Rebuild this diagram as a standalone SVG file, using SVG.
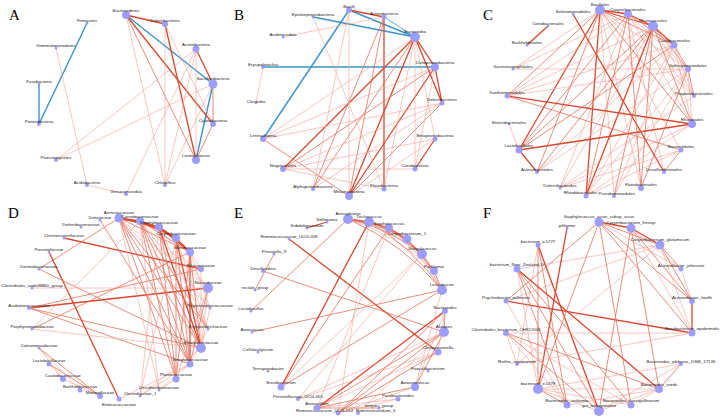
<svg xmlns="http://www.w3.org/2000/svg" width="722" height="418" viewBox="0 0 722 418">
<style>
.t{stroke:#f2a193;stroke-width:0.6;fill:none}
.m{stroke:#e6705b;stroke-width:0.8;fill:none}
.k{stroke:#d8472e;stroke-width:1.3;fill:none}
.b{stroke:#3a94ca;stroke-width:1.4;fill:none}
.bt{stroke:#3a94ca;stroke-width:0.8;fill:none}
circle{fill:#9d9dff}
text{font-family:"Liberation Sans",Arial,sans-serif;font-size:4.4px;fill:#222;text-anchor:middle}
text.p{font-family:"Liberation Serif","Times New Roman",serif;font-size:15px;fill:#000;text-anchor:start}
</style>
<rect width="722" height="418" fill="#fff"/>
<g id="connectors">
<g id="edges-A">
<line class="b" x1="87" y1="23" x2="39" y2="124"/>
<line class="b" x1="39" y1="84" x2="39" y2="124"/>
<line class="b" x1="126" y1="15" x2="213" y2="84"/>
<line class="b" x1="213" y1="84" x2="196" y2="160"/>
<line class="k" x1="126" y1="15" x2="165" y2="24"/>
<line class="k" x1="165" y1="24" x2="196" y2="160"/>
<line class="k" x1="196" y1="49" x2="213" y2="84"/>
<line class="k" x1="126" y1="15" x2="213" y2="124"/>
<line class="m" x1="126" y1="15" x2="196" y2="160"/>
<line class="m" x1="213" y1="124" x2="196" y2="160"/>
<line class="m" x1="213" y1="84" x2="213" y2="124"/>
<line class="t" x1="126" y1="15" x2="165" y2="185"/>
<line class="t" x1="165" y1="24" x2="165" y2="185"/>
<line class="t" x1="196" y1="49" x2="56" y2="160"/>
<line class="t" x1="213" y1="84" x2="56" y2="160"/>
<line class="t" x1="196" y1="49" x2="126" y2="194"/>
<line class="t" x1="196" y1="49" x2="165" y2="185"/>
<line class="t" x1="213" y1="84" x2="165" y2="185"/>
<line class="t" x1="56" y1="48" x2="87" y2="185"/>
<line class="t" x1="87" y1="185" x2="126" y2="194"/>
<line class="t" x1="165" y1="24" x2="213" y2="124"/>
<line class="t" x1="196" y1="49" x2="196" y2="160"/>
</g>
<g id="edges-B">
<line class="b" x1="349" y1="10" x2="415" y2="37"/>
<line class="b" x1="313" y1="17" x2="415" y2="37"/>
<line class="b" x1="349" y1="10" x2="263" y2="139"/>
<line class="b" x1="263" y1="67" x2="435" y2="67"/>
<line class="bt" x1="384" y1="17" x2="415" y2="37"/>
<line class="k" x1="349" y1="10" x2="384" y2="17"/>
<line class="k" x1="384" y1="17" x2="384" y2="189"/>
<line class="k" x1="415" y1="37" x2="435" y2="67"/>
<line class="k" x1="415" y1="37" x2="442" y2="103"/>
<line class="k" x1="435" y1="67" x2="442" y2="103"/>
<line class="k" x1="415" y1="37" x2="349" y2="196"/>
<line class="k" x1="435" y1="139" x2="415" y2="169"/>
<line class="k" x1="415" y1="37" x2="283" y2="169"/>
<line class="m" x1="415" y1="37" x2="313" y2="189"/>
<line class="k" x1="435" y1="67" x2="349" y2="196"/>
<line class="m" x1="442" y1="103" x2="349" y2="196"/>
<line class="m" x1="263" y1="139" x2="349" y2="196"/>
<line class="m" x1="313" y1="189" x2="384" y2="17"/>
<line class="m" x1="349" y1="196" x2="384" y2="17"/>
<line class="m" x1="283" y1="169" x2="435" y2="67"/>
<line class="t" x1="415" y1="37" x2="415" y2="169"/>
<line class="t" x1="415" y1="37" x2="263" y2="139"/>
<line class="t" x1="415" y1="37" x2="384" y2="189"/>
<line class="t" x1="435" y1="67" x2="263" y2="139"/>
<line class="t" x1="442" y1="103" x2="283" y2="169"/>
<line class="t" x1="435" y1="139" x2="283" y2="169"/>
<line class="t" x1="435" y1="139" x2="349" y2="196"/>
<line class="t" x1="415" y1="169" x2="283" y2="169"/>
<line class="t" x1="263" y1="139" x2="442" y2="103"/>
<line class="t" x1="283" y1="37" x2="384" y2="17"/>
<line class="t" x1="263" y1="67" x2="256" y2="103"/>
<line class="t" x1="313" y1="17" x2="384" y2="189"/>
<line class="t" x1="349" y1="10" x2="313" y2="189"/>
<line class="t" x1="349" y1="10" x2="349" y2="196"/>
<line class="t" x1="283" y1="169" x2="384" y2="189"/>
<line class="t" x1="415" y1="37" x2="435" y2="139"/>
<line class="t" x1="435" y1="67" x2="415" y2="169"/>
<line class="t" x1="442" y1="103" x2="313" y2="189"/>
</g>
<g id="edges-C">
<line class="k" x1="600" y1="10" x2="628" y2="14"/>
<line class="k" x1="600" y1="10" x2="653" y2="26"/>
<line class="k" x1="628" y1="14" x2="653" y2="26"/>
<line class="k" x1="653" y1="26" x2="674" y2="45"/>
<line class="m" x1="674" y1="45" x2="688" y2="69"/>
<line class="m" x1="688" y1="69" x2="694" y2="96"/>
<line class="m" x1="600" y1="10" x2="674" y2="45"/>
<line class="m" x1="628" y1="14" x2="674" y2="45"/>
<line class="t" x1="600" y1="10" x2="688" y2="69"/>
<line class="t" x1="600" y1="10" x2="694" y2="96"/>
<line class="m" x1="600" y1="10" x2="692" y2="124"/>
<line class="t" x1="628" y1="14" x2="688" y2="69"/>
<line class="t" x1="628" y1="14" x2="694" y2="96"/>
<line class="t" x1="628" y1="14" x2="692" y2="124"/>
<line class="m" x1="653" y1="26" x2="688" y2="69"/>
<line class="t" x1="653" y1="26" x2="694" y2="96"/>
<line class="m" x1="653" y1="26" x2="692" y2="124"/>
<line class="t" x1="674" y1="45" x2="694" y2="96"/>
<line class="t" x1="674" y1="45" x2="692" y2="124"/>
<line class="t" x1="688" y1="69" x2="692" y2="124"/>
<line class="m" x1="600" y1="10" x2="507" y2="96"/>
<line class="k" x1="600" y1="10" x2="519" y2="150"/>
<line class="m" x1="600" y1="10" x2="537" y2="172"/>
<line class="k" x1="600" y1="10" x2="586" y2="196"/>
<line class="t" x1="600" y1="10" x2="614" y2="196"/>
<line class="t" x1="600" y1="10" x2="641" y2="188"/>
<line class="t" x1="600" y1="10" x2="513" y2="69"/>
<line class="t" x1="600" y1="10" x2="681" y2="150"/>
<line class="m" x1="628" y1="14" x2="519" y2="150"/>
<line class="t" x1="628" y1="14" x2="513" y2="69"/>
<line class="m" x1="628" y1="14" x2="586" y2="196"/>
<line class="t" x1="628" y1="14" x2="664" y2="172"/>
<line class="t" x1="628" y1="14" x2="560" y2="188"/>
<line class="t" x1="628" y1="14" x2="507" y2="96"/>
<line class="m" x1="653" y1="26" x2="519" y2="150"/>
<line class="m" x1="653" y1="26" x2="537" y2="172"/>
<line class="k" x1="653" y1="26" x2="586" y2="196"/>
<line class="t" x1="653" y1="26" x2="560" y2="188"/>
<line class="m" x1="653" y1="26" x2="641" y2="188"/>
<line class="t" x1="653" y1="26" x2="507" y2="96"/>
<line class="m" x1="653" y1="26" x2="614" y2="196"/>
<line class="t" x1="674" y1="45" x2="507" y2="96"/>
<line class="m" x1="674" y1="45" x2="519" y2="150"/>
<line class="t" x1="674" y1="45" x2="586" y2="196"/>
<line class="t" x1="674" y1="45" x2="614" y2="196"/>
<line class="t" x1="674" y1="45" x2="537" y2="172"/>
<line class="t" x1="688" y1="69" x2="507" y2="96"/>
<line class="t" x1="688" y1="69" x2="513" y2="69"/>
<line class="m" x1="688" y1="69" x2="641" y2="188"/>
<line class="t" x1="688" y1="69" x2="537" y2="172"/>
<line class="t" x1="688" y1="69" x2="614" y2="196"/>
<line class="t" x1="688" y1="69" x2="586" y2="196"/>
<line class="k" x1="548" y1="26" x2="527" y2="45"/>
<line class="k" x1="573" y1="14" x2="664" y2="172"/>
<line class="k" x1="507" y1="96" x2="692" y2="124"/>
<line class="k" x1="519" y1="150" x2="692" y2="124"/>
<line class="k" x1="519" y1="150" x2="537" y2="172"/>
<line class="t" x1="509" y1="124" x2="519" y2="150"/>
<line class="m" x1="507" y1="96" x2="681" y2="150"/>
<line class="t" x1="681" y1="150" x2="586" y2="196"/>
<line class="t" x1="681" y1="150" x2="560" y2="188"/>
<line class="t" x1="694" y1="96" x2="560" y2="188"/>
<line class="t" x1="692" y1="124" x2="586" y2="196"/>
<line class="t" x1="692" y1="124" x2="560" y2="188"/>
<line class="m" x1="641" y1="188" x2="628" y2="14"/>
<line class="m" x1="664" y1="172" x2="681" y2="150"/>
</g>
<g id="edges-D">
<line class="k" x1="119" y1="218" x2="140" y2="221"/>
<line class="k" x1="140" y1="221" x2="159" y2="227"/>
<line class="k" x1="159" y1="227" x2="176" y2="238"/>
<line class="k" x1="176" y1="238" x2="190" y2="252"/>
<line class="k" x1="119" y1="218" x2="159" y2="227"/>
<line class="k" x1="140" y1="221" x2="176" y2="238"/>
<line class="k" x1="159" y1="227" x2="190" y2="252"/>
<path class="k" d="M119,218 Q152,224 176,238"/>
<line class="k" x1="64" y1="238" x2="201" y2="269"/>
<line class="m" x1="119" y1="218" x2="39" y2="269"/>
<line class="k" x1="29" y1="308" x2="208" y2="288"/>
<line class="k" x1="49" y1="252" x2="119" y2="399"/>
<line class="k" x1="159" y1="227" x2="201" y2="348"/>
<line class="k" x1="176" y1="238" x2="201" y2="348"/>
<line class="m" x1="140" y1="221" x2="176" y2="379"/>
<line class="k" x1="190" y1="252" x2="190" y2="364"/>
<line class="m" x1="208" y1="288" x2="190" y2="364"/>
<line class="m" x1="119" y1="218" x2="176" y2="379"/>
<line class="m" x1="119" y1="218" x2="190" y2="252"/>
<line class="m" x1="140" y1="221" x2="190" y2="252"/>
<line class="m" x1="119" y1="218" x2="201" y2="348"/>
<line class="m" x1="140" y1="221" x2="201" y2="348"/>
<line class="m" x1="140" y1="221" x2="190" y2="364"/>
<line class="m" x1="159" y1="227" x2="190" y2="364"/>
<line class="m" x1="159" y1="227" x2="176" y2="379"/>
<line class="m" x1="176" y1="238" x2="176" y2="379"/>
<line class="m" x1="176" y1="238" x2="190" y2="364"/>
<line class="m" x1="190" y1="252" x2="201" y2="348"/>
<line class="m" x1="190" y1="252" x2="176" y2="379"/>
<line class="m" x1="119" y1="218" x2="190" y2="364"/>
<line class="m" x1="100" y1="220" x2="190" y2="364"/>
<line class="m" x1="39" y1="269" x2="201" y2="348"/>
<line class="m" x1="29" y1="308" x2="201" y2="348"/>
<line class="m" x1="29" y1="308" x2="190" y2="364"/>
<line class="m" x1="32" y1="329" x2="190" y2="252"/>
<line class="m" x1="39" y1="348" x2="100" y2="396"/>
<line class="m" x1="49" y1="364" x2="100" y2="396"/>
<line class="t" x1="63" y1="379" x2="100" y2="396"/>
<line class="t" x1="32" y1="288" x2="208" y2="288"/>
<line class="m" x1="29" y1="308" x2="201" y2="269"/>
<line class="m" x1="119" y1="218" x2="208" y2="329"/>
<line class="m" x1="140" y1="221" x2="208" y2="329"/>
<line class="t" x1="201" y1="269" x2="201" y2="348"/>
<line class="t" x1="210" y1="308" x2="201" y2="348"/>
<line class="t" x1="208" y1="329" x2="190" y2="364"/>
<line class="t" x1="119" y1="218" x2="208" y2="288"/>
<line class="t" x1="140" y1="221" x2="208" y2="288"/>
<line class="t" x1="159" y1="227" x2="208" y2="288"/>
<line class="t" x1="159" y1="227" x2="208" y2="329"/>
<line class="t" x1="176" y1="238" x2="208" y2="329"/>
<line class="t" x1="119" y1="218" x2="210" y2="308"/>
<line class="t" x1="140" y1="221" x2="210" y2="308"/>
<line class="t" x1="190" y1="252" x2="210" y2="308"/>
<line class="t" x1="119" y1="218" x2="159" y2="390"/>
<line class="t" x1="140" y1="221" x2="159" y2="390"/>
<line class="t" x1="159" y1="227" x2="140" y2="396"/>
<line class="t" x1="176" y1="238" x2="140" y2="396"/>
<line class="t" x1="201" y1="348" x2="140" y2="396"/>
<line class="t" x1="190" y1="364" x2="140" y2="396"/>
<line class="t" x1="208" y1="288" x2="176" y2="379"/>
<line class="t" x1="190" y1="252" x2="201" y2="269"/>
<line class="t" x1="208" y1="288" x2="201" y2="348"/>
<line class="t" x1="32" y1="329" x2="201" y2="348"/>
<line class="t" x1="39" y1="348" x2="80" y2="390"/>
<line class="t" x1="49" y1="364" x2="63" y2="379"/>
<line class="t" x1="39" y1="348" x2="63" y2="379"/>
<line class="t" x1="159" y1="390" x2="190" y2="364"/>
<line class="t" x1="159" y1="390" x2="176" y2="379"/>
<line class="t" x1="119" y1="399" x2="190" y2="364"/>
<line class="t" x1="140" y1="221" x2="32" y2="329"/>
</g>
<g id="edges-E">
<line class="k" x1="348" y1="219" x2="369" y2="222"/>
<line class="k" x1="369" y1="222" x2="389" y2="228"/>
<line class="k" x1="389" y1="228" x2="407" y2="239"/>
<line class="m" x1="348" y1="219" x2="389" y2="228"/>
<line class="m" x1="369" y1="222" x2="407" y2="239"/>
<line class="m" x1="407" y1="239" x2="422" y2="254"/>
<line class="m" x1="422" y1="254" x2="434" y2="271"/>
<line class="m" x1="434" y1="271" x2="442" y2="290"/>
<line class="m" x1="389" y1="228" x2="422" y2="254"/>
<line class="m" x1="407" y1="239" x2="434" y2="271"/>
<line class="t" x1="422" y1="254" x2="442" y2="290"/>
<path class="m" d="M348,219 Q404,244 442,290"/>
<path class="t" d="M348,219 Q397,235 434,271"/>
<path class="m" d="M348,219 Q389,228 422,254"/>
<path class="m" d="M348,219 Q380,222 407,239"/>
<path class="m" d="M369,222 Q414,248 442,290"/>
<path class="t" d="M369,222 Q408,239 434,271"/>
<path class="m" d="M369,222 Q400,231 422,254"/>
<path class="t" d="M389,228 Q423,253 442,290"/>
<path class="m" d="M389,228 Q417,244 434,271"/>
<path class="t" d="M407,239 Q431,260 442,290"/>
<line class="k" x1="327" y1="222" x2="307" y2="228"/>
<line class="k" x1="289" y1="239" x2="438" y2="352"/>
<line class="m" x1="274" y1="254" x2="255" y2="290"/>
<line class="m" x1="263" y1="271" x2="444" y2="332"/>
<line class="m" x1="251" y1="311" x2="348" y2="219"/>
<line class="m" x1="252" y1="332" x2="442" y2="290"/>
<line class="k" x1="281" y1="387" x2="369" y2="222"/>
<line class="m" x1="281" y1="387" x2="389" y2="228"/>
<line class="t" x1="281" y1="387" x2="422" y2="254"/>
<line class="m" x1="281" y1="387" x2="442" y2="290"/>
<line class="t" x1="369" y1="222" x2="338" y2="413"/>
<line class="t" x1="389" y1="228" x2="317" y2="408"/>
<line class="k" x1="445" y1="311" x2="317" y2="408"/>
<line class="m" x1="445" y1="311" x2="338" y2="413"/>
<line class="m" x1="444" y1="332" x2="317" y2="408"/>
<line class="m" x1="444" y1="332" x2="338" y2="413"/>
<line class="t" x1="444" y1="332" x2="358" y2="413"/>
<line class="t" x1="444" y1="332" x2="298" y2="399"/>
<line class="t" x1="438" y1="352" x2="298" y2="399"/>
<line class="t" x1="438" y1="352" x2="317" y2="408"/>
<line class="m" x1="438" y1="352" x2="338" y2="413"/>
<line class="m" x1="415" y1="387" x2="317" y2="408"/>
<line class="t" x1="415" y1="387" x2="338" y2="413"/>
<line class="m" x1="415" y1="387" x2="444" y2="332"/>
<line class="t" x1="415" y1="387" x2="445" y2="311"/>
<line class="t" x1="398" y1="399" x2="317" y2="408"/>
<line class="t" x1="398" y1="399" x2="338" y2="413"/>
<line class="m" x1="379" y1="408" x2="317" y2="408"/>
<line class="m" x1="445" y1="311" x2="444" y2="332"/>
<line class="t" x1="422" y1="254" x2="298" y2="399"/>
<line class="t" x1="442" y1="290" x2="415" y2="387"/>
<line class="t" x1="438" y1="352" x2="445" y2="311"/>
</g>
<g id="edges-F">
<line class="k" x1="599" y1="222" x2="631" y2="228"/>
<line class="k" x1="631" y1="228" x2="660" y2="245"/>
<line class="k" x1="692" y1="301" x2="692" y2="333"/>
<line class="k" x1="506" y1="301" x2="692" y2="333"/>
<line class="m" x1="599" y1="222" x2="660" y2="245"/>
<line class="t" x1="599" y1="222" x2="681" y2="269"/>
<line class="m" x1="599" y1="222" x2="692" y2="301"/>
<line class="m" x1="599" y1="222" x2="692" y2="333"/>
<line class="t" x1="631" y1="228" x2="681" y2="269"/>
<line class="m" x1="631" y1="228" x2="692" y2="301"/>
<line class="t" x1="631" y1="228" x2="692" y2="333"/>
<line class="m" x1="660" y1="245" x2="681" y2="269"/>
<line class="m" x1="660" y1="245" x2="692" y2="301"/>
<line class="t" x1="660" y1="245" x2="692" y2="333"/>
<line class="t" x1="681" y1="269" x2="692" y2="301"/>
<line class="m" x1="599" y1="222" x2="506" y2="301"/>
<line class="t" x1="660" y1="245" x2="506" y2="301"/>
<line class="t" x1="660" y1="245" x2="517" y2="269"/>
<line class="k" x1="567" y1="228" x2="538" y2="389"/>
<line class="m" x1="538" y1="245" x2="538" y2="389"/>
<line class="m" x1="538" y1="245" x2="567" y2="405"/>
<line class="k" x1="538" y1="245" x2="599" y2="411"/>
<line class="t" x1="538" y1="245" x2="517" y2="364"/>
<line class="m" x1="517" y1="269" x2="599" y2="411"/>
<line class="m" x1="517" y1="269" x2="567" y2="405"/>
<line class="m" x1="517" y1="269" x2="631" y2="405"/>
<line class="k" x1="517" y1="269" x2="659" y2="389"/>
<line class="t" x1="517" y1="269" x2="538" y2="389"/>
<line class="t" x1="506" y1="333" x2="692" y2="333"/>
<line class="m" x1="506" y1="333" x2="659" y2="389"/>
<line class="m" x1="506" y1="333" x2="599" y2="411"/>
<line class="t" x1="506" y1="333" x2="567" y2="405"/>
<line class="t" x1="506" y1="333" x2="631" y2="405"/>
<line class="t" x1="506" y1="333" x2="517" y2="364"/>
<line class="t" x1="538" y1="389" x2="659" y2="389"/>
<line class="m" x1="538" y1="389" x2="567" y2="405"/>
<line class="t" x1="538" y1="389" x2="599" y2="411"/>
<line class="t" x1="538" y1="389" x2="631" y2="405"/>
<line class="t" x1="538" y1="389" x2="681" y2="364"/>
<line class="t" x1="567" y1="405" x2="659" y2="389"/>
<line class="t" x1="599" y1="411" x2="659" y2="389"/>
<line class="t" x1="631" y1="405" x2="659" y2="389"/>
<line class="m" x1="681" y1="364" x2="659" y2="389"/>
<line class="t" x1="681" y1="364" x2="599" y2="411"/>
<line class="m" x1="631" y1="228" x2="659" y2="389"/>
<line class="m" x1="599" y1="222" x2="631" y2="405"/>
<line class="t" x1="660" y1="245" x2="517" y2="364"/>
<line class="m" x1="599" y1="222" x2="538" y2="389"/>
<line class="m" x1="631" y1="228" x2="599" y2="411"/>
<line class="t" x1="517" y1="364" x2="692" y2="333"/>
<line class="t" x1="506" y1="301" x2="567" y2="405"/>
</g>
</g>
<g id="panel-labels">
<text class="p" x="9" y="20">A</text>
<text class="p" x="234" y="20">B</text>
<text class="p" x="483" y="20">C</text>
<text class="p" x="8" y="218">D</text>
<text class="p" x="234" y="218">E</text>
<text class="p" x="483" y="218">F</text>
</g>
<g id="nodes-A">
<g id="A-Bacteroidetes"><circle cx="126" cy="15" r="4"/><text x="126" y="11.8">Bacteroidetes</text></g>
<g id="A-Deferribacteres"><circle cx="165" cy="24" r="3"/><text x="165" y="21.8">Deferribacteres</text></g>
<g id="A-Firmicutes"><circle cx="87" cy="23" r="1.5"/><text x="87" y="22.3">Firmicutes</text></g>
<g id="A-Gemmatimonadetes"><circle cx="56" cy="48" r="1.5"/><text x="56" y="47.3">Gemmatimonadetes</text></g>
<g id="A-Actinobacteria"><circle cx="196" cy="49" r="3.5"/><text x="196" y="46.3">Actinobacteria</text></g>
<g id="A-Saccharibacteria"><circle cx="213" cy="84" r="4.5"/><text x="213" y="80.3">Saccharibacteria</text></g>
<g id="A-Fusobacteria"><circle cx="39" cy="84" r="1.5"/><text x="39" y="83.3">Fusobacteria</text></g>
<g id="A-Proteobacteria"><circle cx="39" cy="124" r="2"/><text x="39" y="122.8">Proteobacteria</text></g>
<g id="A-Cyanobacteria"><circle cx="213" cy="124" r="3"/><text x="213" y="121.8">Cyanobacteria</text></g>
<g id="A-Planctomycetes"><circle cx="56" cy="160" r="2"/><text x="56" y="158.8">Planctomycetes</text></g>
<g id="A-Lentisphaerae"><circle cx="196" cy="160" r="4"/><text x="196" y="156.8">Lentisphaerae</text></g>
<g id="A-Acidobacteria"><circle cx="87" cy="185" r="2"/><text x="87" y="183.8">Acidobacteria</text></g>
<g id="A-Chloroflexi"><circle cx="165" cy="185" r="2"/><text x="165" y="183.8">Chloroflexi</text></g>
<g id="A-Verrucomicrobia"><circle cx="126" cy="194" r="2"/><text x="126" y="192.8">Verrucomicrobia</text></g>
</g>
<g id="nodes-B">
<g id="B-Bacilli"><circle cx="349" cy="10" r="3"/><text x="349" y="7.8">Bacilli</text></g>
<g id="B-Actinobacteria"><circle cx="384" cy="17" r="2.5"/><text x="384" y="15.3">Actinobacteria</text></g>
<g id="B-Epsilonproteobacteria"><circle cx="313" cy="17" r="1.5"/><text x="313" y="16.3">Epsilonproteobacteria</text></g>
<g id="B-Acidimicrobiia"><circle cx="283" cy="37" r="1.5"/><text x="283" y="36.3">Acidimicrobiia</text></g>
<g id="B-Bacteroidia"><circle cx="415" cy="37" r="5"/><text x="415" y="32.8">Bacteroidia</text></g>
<g id="B-Erysipelotrichia"><circle cx="263" cy="67" r="2"/><text x="263" y="65.8">Erysipelotrichia</text></g>
<g id="B-Deltaproteobacteria"><circle cx="435" cy="67" r="4"/><text x="435" y="63.8">Deltaproteobacteria</text></g>
<g id="B-Clostridia"><circle cx="256" cy="103" r="1.2"/><text x="256" y="102.6">Clostridia</text></g>
<g id="B-Deferribacteres"><circle cx="442" cy="103" r="2.5"/><text x="442" y="101.3">Deferribacteres</text></g>
<g id="B-Lentisphaeria"><circle cx="263" cy="139" r="3"/><text x="263" y="136.8">Lentisphaeria</text></g>
<g id="B-Betaproteobacteria"><circle cx="435" cy="139" r="2.5"/><text x="435" y="137.3">Betaproteobacteria</text></g>
<g id="B-Negativicutes"><circle cx="283" cy="169" r="3"/><text x="283" y="166.8">Negativicutes</text></g>
<g id="B-Coriobacteriia"><circle cx="415" cy="169" r="2.5"/><text x="415" y="167.3">Coriobacteriia</text></g>
<g id="B-Alphaproteobacteria"><circle cx="313" cy="189" r="2"/><text x="313" y="187.8">Alphaproteobacteria</text></g>
<g id="B-Flavobacteriia"><circle cx="384" cy="189" r="2.5"/><text x="384" y="187.3">Flavobacteriia</text></g>
<g id="B-Melainabacteria"><circle cx="349" cy="196" r="4"/><text x="349" y="192.8">Melainabacteria</text></g>
</g>
<g id="nodes-C">
<g id="C-Bacillales"><circle cx="600" cy="10" r="5"/><text x="600" y="5.8">Bacillales</text></g>
<g id="C-Selenomonadales"><circle cx="573" cy="14" r="1.5"/><text x="573" y="13.3">Selenomonadales</text></g>
<g id="C-Corynebacteriales"><circle cx="628" cy="14" r="4"/><text x="628" y="10.8">Corynebacteriales</text></g>
<g id="C-Coriobacteriales"><circle cx="548" cy="26" r="1.5"/><text x="548" y="25.3">Coriobacteriales</text></g>
<g id="C-Micrococcales"><circle cx="653" cy="26" r="5"/><text x="653" y="21.8">Micrococcales</text></g>
<g id="C-Burkholderiales"><circle cx="527" cy="45" r="1.5"/><text x="527" y="44.3">Burkholderiales</text></g>
<g id="C-Caulobacterales"><circle cx="674" cy="45" r="3.5"/><text x="674" y="42.3">Caulobacterales</text></g>
<g id="C-Gastranaerophilales"><circle cx="513" cy="69" r="1.5"/><text x="513" y="68.3">Gastranaerophilales</text></g>
<g id="C-Sphingomonadales"><circle cx="688" cy="69" r="3"/><text x="688" y="66.8">Sphingomonadales</text></g>
<g id="C-Xanthomonadales"><circle cx="507" cy="96" r="2.5"/><text x="507" y="94.3">Xanthomonadales</text></g>
<g id="C-Propionibacteriales"><circle cx="694" cy="96" r="2"/><text x="694" y="94.8">Propionibacteriales</text></g>
<g id="C-Rhizobiales"><circle cx="692" cy="124" r="4"/><text x="692" y="120.8">Rhizobiales</text></g>
<g id="C-Enterobacteriales"><circle cx="509" cy="124" r="1.2"/><text x="509" y="123.6">Enterobacteriales</text></g>
<g id="C-Lactobacillales"><circle cx="519" cy="150" r="3.5"/><text x="519" y="147.3">Lactobacillales</text></g>
<g id="C-Bacteroidales"><circle cx="681" cy="150" r="2.5"/><text x="681" y="148.3">Bacteroidales</text></g>
<g id="C-Actinomycetales"><circle cx="537" cy="172" r="2"/><text x="537" y="170.8">Actinomycetales</text></g>
<g id="C-Desulfovibrionales"><circle cx="664" cy="172" r="2"/><text x="664" y="170.8">Desulfovibrionales</text></g>
<g id="C-Deferribacterales"><circle cx="560" cy="188" r="1.5"/><text x="560" y="187.3">Deferribacterales</text></g>
<g id="C-Flavobacteriales"><circle cx="641" cy="188" r="3"/><text x="641" y="185.8">Flavobacteriales</text></g>
<g id="C-Rhodobacterales"><circle cx="586" cy="196" r="2.5"/><text x="597.3" y="194.3" style="text-anchor:end">Rhodobacterales</text></g>
<g id="C-Pseudomonadales"><circle cx="614" cy="196" r="2"/><text x="598.6" y="194.8" style="text-anchor:start">Pseudomonadales</text></g>
</g>
<g id="nodes-D">
<g id="D-Aerococcaceae"><circle cx="119" cy="218" r="4.5"/><text x="119" y="214.3">Aerococcaceae</text></g>
<g id="D-Dietziaceae"><circle cx="100" cy="220" r="1.5"/><text x="100" y="219.3">Dietziaceae</text></g>
<g id="D-Carnobacteriaceae"><circle cx="140" cy="221" r="4"/><text x="140" y="217.8">Carnobacteriaceae</text></g>
<g id="D-Staphylococcaceae"><circle cx="159" cy="227" r="4"/><text x="159" y="223.8">Staphylococcaceae</text></g>
<g id="D-Deferribacteraceae"><circle cx="81" cy="227" r="1.5"/><text x="81" y="226.3">Deferribacteraceae</text></g>
<g id="D-Corynebacteriaceae"><circle cx="176" cy="238" r="4"/><text x="176" y="234.8">Corynebacteriaceae</text></g>
<g id="D-Christensenellaceae"><circle cx="64" cy="238" r="1.5"/><text x="64" y="237.3">Christensenellaceae</text></g>
<g id="D-Micrococcaceae"><circle cx="190" cy="252" r="4"/><text x="190" y="248.8">Micrococcaceae</text></g>
<g id="D-Prevotellaceae"><circle cx="49" cy="252" r="1.5"/><text x="49" y="251.3">Prevotellaceae</text></g>
<g id="D-Neisseriaceae"><circle cx="201" cy="269" r="3"/><text x="201" y="266.8">Neisseriaceae</text></g>
<g id="D-Dermabacteraceae"><circle cx="39" cy="269" r="1.5"/><text x="39" y="268.3">Dermabacteraceae</text></g>
<g id="D-Nocardiaceae"><circle cx="208" cy="288" r="5"/><text x="208" y="283.8">Nocardiaceae</text></g>
<g id="D-Clostridiales_vadinBB60_group"><circle cx="32" cy="288" r="1.5"/><text x="32" y="287.3">Clostridiales_vadinBB60_group</text></g>
<g id="D-Peptostreptococcaceae"><circle cx="210" cy="308" r="1.5"/><text x="210" y="307.3">Peptostreptococcaceae</text></g>
<g id="D-Acidaminococcaceae"><circle cx="29" cy="308" r="2"/><text x="29" y="306.8">Acidaminococcaceae</text></g>
<g id="D-Erysipelotrichaceae"><circle cx="208" cy="329" r="1.5"/><text x="208" y="328.3">Erysipelotrichaceae</text></g>
<g id="D-Porphyromonadaceae"><circle cx="32" cy="329" r="1.5"/><text x="32" y="328.3">Porphyromonadaceae</text></g>
<g id="D-Brevibacteriaceae"><circle cx="201" cy="348" r="5"/><text x="201" y="343.8">Brevibacteriaceae</text></g>
<g id="D-Comamonadaceae"><circle cx="39" cy="348" r="1.5"/><text x="39" y="347.3">Comamonadaceae</text></g>
<g id="D-Streptococcaceae"><circle cx="190" cy="364" r="3.5"/><text x="190" y="361.3">Streptococcaceae</text></g>
<g id="D-Lactobacillaceae"><circle cx="49" cy="364" r="2.5"/><text x="49" y="362.3">Lactobacillaceae</text></g>
<g id="D-Planococcaceae"><circle cx="176" cy="379" r="3.5"/><text x="176" y="376.3">Planococcaceae</text></g>
<g id="D-Caulobacteraceae"><circle cx="63" cy="379" r="3"/><text x="63" y="376.8">Caulobacteraceae</text></g>
<g id="D-Desulfovibrionaceae"><circle cx="159" cy="390" r="1.5"/><text x="159" y="389.3">Desulfovibrionaceae</text></g>
<g id="D-Burkholderiaceae"><circle cx="80" cy="390" r="2.5"/><text x="80" y="388.3">Burkholderiaceae</text></g>
<g id="D-Moraxellaceae"><circle cx="100" cy="396" r="3"/><text x="100" y="393.8">Moraxellaceae</text></g>
<g id="D-Enterococcaceae"><circle cx="119" cy="399" r="2.5"/><text x="119" y="405.5">Enterococcaceae</text></g>
<g id="D-Clostridiaceae_1"><circle cx="140" cy="396" r="1.5"/><text x="140" y="395.3">Clostridiaceae_1</text></g>
</g>
<g id="nodes-E">
<g id="E-Aerosphaera"><circle cx="348" cy="219" r="5"/><text x="348" y="214.8">Aerosphaera</text></g>
<g id="E-Trichococcus"><circle cx="369" cy="222" r="5"/><text x="369" y="217.8">Trichococcus</text></g>
<g id="E-Staphylococcus"><circle cx="389" cy="228" r="4"/><text x="389" y="224.8">Staphylococcus</text></g>
<g id="E-Corynebacterium_1"><circle cx="407" cy="239" r="4.5"/><text x="407" y="235.3">Corynebacterium_1</text></g>
<g id="E-Jeotgalicoccus"><circle cx="422" cy="254" r="5"/><text x="422" y="249.8">Jeotgalicoccus</text></g>
<g id="E-Facklamia"><circle cx="434" cy="271" r="4"/><text x="434" y="267.8">Facklamia</text></g>
<g id="E-Leucobacter"><circle cx="442" cy="290" r="5"/><text x="442" y="285.8">Leucobacter</text></g>
<g id="E-Bacteroides"><circle cx="445" cy="311" r="3"/><text x="445" y="308.8">Bacteroides</text></g>
<g id="E-Alistipes"><circle cx="444" cy="332" r="5"/><text x="444" y="327.8">Alistipes</text></g>
<g id="E-Christensenella"><circle cx="438" cy="352" r="3.5"/><text x="438" y="349.3">Christensenella</text></g>
<g id="E-Faecalibacterium"><circle cx="428" cy="371" r="1.5"/><text x="428" y="370.3">Faecalibacterium</text></g>
<g id="E-Anaerotruncus"><circle cx="415" cy="387" r="4"/><text x="415" y="383.8">Anaerotruncus</text></g>
<g id="E-Parabacteroides"><circle cx="398" cy="399" r="2.5"/><text x="398" y="397.3">Parabacteroides</text></g>
<g id="E-torques_group"><circle cx="379" cy="408" r="1.5"/><text x="379" y="406.8">torques_group</text></g>
<g id="E-Ruminiclostridium_5"><circle cx="358" cy="413" r="2"/><text x="356" y="412" style="text-anchor:start">Ruminiclostridium_5</text></g>
<g id="E-Ruminococcaceae_UCG-014"><circle cx="338" cy="413" r="2.5"/><text x="353" y="411.8" style="text-anchor:end">Ruminococcaceae_UCG-014</text></g>
<g id="E-Anaerofilum"><circle cx="317" cy="408" r="3.5"/><text x="317" y="404.8">Anaerofilum</text></g>
<g id="E-Prevotellaceae_UCG-001"><circle cx="298" cy="399" r="2"/><text x="298" y="397.8">Prevotellaceae_UCG-001</text></g>
<g id="E-Brevibacterium"><circle cx="281" cy="387" r="3.5"/><text x="281" y="384.3">Brevibacterium</text></g>
<g id="E-Terrisporobacter"><circle cx="268" cy="371" r="1.5"/><text x="268" y="370.3">Terrisporobacter</text></g>
<g id="E-Cellulosilyticum"><circle cx="258" cy="352" r="1.5"/><text x="258" y="351.3">Cellulosilyticum</text></g>
<g id="E-Aerococcus"><circle cx="252" cy="332" r="1.5"/><text x="252" y="331.3">Aerococcus</text></g>
<g id="E-Lactobacillus"><circle cx="251" cy="311" r="1.5"/><text x="251" y="310.3">Lactobacillus</text></g>
<g id="E-rectale_group"><circle cx="255" cy="290" r="1.5"/><text x="255" y="289.3">rectale_group</text></g>
<g id="E-Desulfovibrio"><circle cx="263" cy="271" r="2"/><text x="263" y="269.8">Desulfovibrio</text></g>
<g id="E-Prevotella_9"><circle cx="274" cy="254" r="1.5"/><text x="274" y="253.3">Prevotella_9</text></g>
<g id="E-Ruminococcaceae_UCG-009"><circle cx="289" cy="239" r="1.5"/><text x="289" y="238.3">Ruminococcaceae_UCG-009</text></g>
<g id="E-Subdoligranulum"><circle cx="307" cy="228" r="1.5"/><text x="307" y="227.3">Subdoligranulum</text></g>
<g id="E-Sellimonas"><circle cx="327" cy="222" r="1.5"/><text x="327" y="221.3">Sellimonas</text></g>
</g>
<g id="nodes-F">
<g id="F-Staphylococcus_sciuri_subsp_sciuri"><circle cx="599" cy="222" r="4.5"/><text x="599" y="218.3">Staphylococcus_sciuri_subsp_sciuri</text></g>
<g id="F-Corynebacterium_freneyi"><circle cx="631" cy="228" r="4.5"/><text x="631" y="224.3">Corynebacterium_freneyi</text></g>
<g id="F-Corynebacterium_glutamicum"><circle cx="660" cy="245" r="4.5"/><text x="660" y="241.3">Corynebacterium_glutamicum</text></g>
<g id="F-piliforme"><circle cx="567" cy="228" r="1.5"/><text x="567" y="227.3">piliforme</text></g>
<g id="F-bacterium_ic1277"><circle cx="538" cy="245" r="2.5"/><text x="538" y="243.3">bacterium_ic1277</text></g>
<g id="F-bacterium_New_Zealand_D"><circle cx="517" cy="269" r="3.5"/><text x="517" y="266.3">bacterium_New_Zealand_D</text></g>
<g id="F-Acinetobacter_johnsonii"><circle cx="681" cy="269" r="2.5"/><text x="681" y="267.3">Acinetobacter_johnsonii</text></g>
<g id="F-Psychrobacter_pulmonis"><circle cx="506" cy="301" r="2.5"/><text x="506" y="299.3">Psychrobacter_pulmonis</text></g>
<g id="F-Acinetobacter_lwoffii"><circle cx="692" cy="301" r="3"/><text x="692" y="298.8">Acinetobacter_lwoffii</text></g>
<g id="F-Clostridiales_bacterium_CHKCI006"><circle cx="506" cy="333" r="3"/><text x="506" y="330.8">Clostridiales_bacterium_CHKCI006</text></g>
<g id="F-Brevibacterium_epidermidis"><circle cx="692" cy="333" r="3.5"/><text x="692" y="330.3">Brevibacterium_epidermidis</text></g>
<g id="F-Rothia_nasimurium"><circle cx="517" cy="364" r="2"/><text x="517" y="362.8">Rothia_nasimurium</text></g>
<g id="F-Bacteroides_plebeius_DSM_17135"><circle cx="681" cy="364" r="2"/><text x="681" y="362.8">Bacteroides_plebeius_DSM_17135</text></g>
<g id="F-bacterium_ic1379"><circle cx="538" cy="389" r="5"/><text x="538" y="384.8">bacterium_ic1379</text></g>
<g id="F-Bacteroides_nordii"><circle cx="659" cy="389" r="4"/><text x="659" y="385.8">Bacteroides_nordii</text></g>
<g id="F-Bacteroides_uniformis"><circle cx="567" cy="405" r="3.5"/><text x="567" y="402.3">Bacteroides_uniformis</text></g>
<g id="F-gut_metagenome"><circle cx="599" cy="411" r="5"/><text x="599" y="407.3">gut_metagenome</text></g>
<g id="F-Bacteroides_caecigallinarum"><circle cx="631" cy="405" r="3.5"/><text x="631" y="402.3">Bacteroides_caecigallinarum</text></g>
</g>
</svg>
